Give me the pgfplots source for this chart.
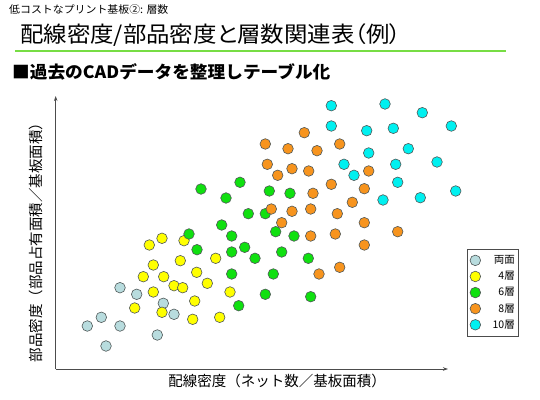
\documentclass[border=0pt]{standalone}
\usepackage{fontspec}
\setmainfont{Noto Sans CJK JP}
\newfontfamily\paltfont{Noto Sans CJK JP}[RawFeature=+palt]
\usepackage{graphicx}
\usepackage{pgfplots}
\pgfplotsset{compat=1.18}
\usetikzlibrary{arrows.meta}
\definecolor{cgray}{HTML}{B8DCDE}
\definecolor{cyellow}{HTML}{FFFF00}
\definecolor{cgreen}{HTML}{10E010}
\definecolor{corange}{HTML}{F7941E}
\definecolor{ccyan}{HTML}{00F0F0}
\definecolor{ulgreen}{HTML}{77DD44}
\definecolor{edge}{HTML}{505858}
\begin{document}
\begin{tikzpicture}[x=1pt,y=1pt]
\useasboundingbox (0,0) rectangle (540,399);
\node[anchor=west, font=\fontsize{10.5}{10.5}\selectfont, inner sep=0] at (9,389) {\scalebox{1.04}[1]{低コストなプリント基板②: 層数}};
\node[anchor=west, font=\paltfont\fontsize{22}{22}\selectfont, inner sep=0] at (20,364) {\scalebox{1.065}[1]{配線密度/部品密度と層数関連表（例）}};
\draw[color=ulgreen, line width=2pt] (15,347.5) -- (506,347.5);
\node[anchor=west, font=\fontsize{17}{17}\selectfont\bfseries, inner sep=0] at (12,327) {\scalebox{1.04}[1]{■過去のCADデータを整理しテーブル化}};
\begin{axis}[
  at={(55.7,30)}, anchor=south west,
  scale only axis, width=392.3pt, height=273pt,
  xmin=55.7, xmax=448, ymin=30, ymax=303,
  axis lines=left,
  axis line style={gray!60!black, line width=0.8pt, -{Stealth[length=5pt,width=3.5pt]}},
  xtick=\empty, ytick=\empty,
  clip=false,
  legend cell align=right,
  legend image code/.code={\path (-3.5pt,0pt) -- (0pt,0pt); \draw[#1] plot coordinates {(0pt,0pt)};},
  legend style={at={(axis description cs:1.048,0.44)}, anchor=north west,
    draw=gray!60!black, font=\fontsize{10.5}{10.5}\selectfont,
    row sep=5.5pt, inner xsep=3pt, inner ysep=6pt,
    nodes={inner sep=0pt},
    /tikz/every odd column/.append style={column sep=12pt}},
  every axis plot/.append style={only marks, mark=*, mark size=5.3pt, draw=edge, line width=0.6pt},
]
\addplot[fill=cgray, draw=edge] coordinates {
(87.3,73) (101.3,81.7) (106,53) (120,111.3) (120,73) (136.7,104.7) (157.3,64) (163.3,95.7) (174,84.7)};
\addlegendentry{両面}
\addplot[fill=cyellow, draw=edge] coordinates {
(149.3,154) (162,160.7) (184,158.3) (153.3,134) (180.3,138.3) (215.7,140.7) (143.3,122.3) (163.7,122.3) (196.7,126.7) (174,113.3) (182.7,111.3) (207.3,115.7) (153.3,107) (230,107) (194.7,98) (134.7,91) (162,86.7) (192.7,79.7) (219.7,81.7)};
\addlegendentry{4層}
\addplot[fill=cgreen, draw=edge] coordinates {
(201,210) (240,216.7) (226,201) (269.3,208) (290,205.7) (248.3,185.3) (265.3,185.3) (221.7,174) (189,165) (231.7,163) (275.7,167.3) (294,163) (197,149.3) (231.7,147) (244.7,151.7) (255,140.7) (281.7,147) (308.3,140.7) (231.7,125) (273.3,125) (265.3,104.7) (310.7,102.3) (238.7,93.3)};
\addlegendentry{6層}
\addplot[fill=corange, draw=edge] coordinates {
(304.3,266.3) (265.3,255) (288,250.3) (317,248.3) (339.7,255) (267.3,234.7) (277.7,223.7) (292,230.3) (308.7,228) (368.7,228) (331.3,214.7) (364.3,210.3) (313,205.7) (352.3,196.7) (271.3,190) (292,187.7) (310.7,190) (337.3,185.3) (281.7,176.3) (364.3,176.3) (397.7,167.3) (310.7,163) (335.3,165) (364.3,154) (319,125) (339.7,131.7)};
\addlegendentry{8層}
\addplot[fill=ccyan, draw=edge] coordinates {
(331.3,293.3) (385,295) (422.3,286.3) (451.3,273) (331.3,273) (366.7,268.3) (393.3,270.7) (408.3,250.3) (368.7,246) (344,234.7) (354,223.7) (395.7,234.7) (437,237) (397.7,216.7) (383,199) (420.3,201.3) (455.7,208)};
\addlegendentry{10層}
\end{axis}
\node[rotate=90, font=\fontsize{14.5}{14.5}\selectfont, inner sep=0] at (36,160) {部品密度（部品占有面積／基板面積）};
\node[font=\fontsize{14.5}{14.5}\selectfont, inner sep=0] at (277,18) {配線密度（ネット数／基板面積）};
\end{tikzpicture}
\end{document}
